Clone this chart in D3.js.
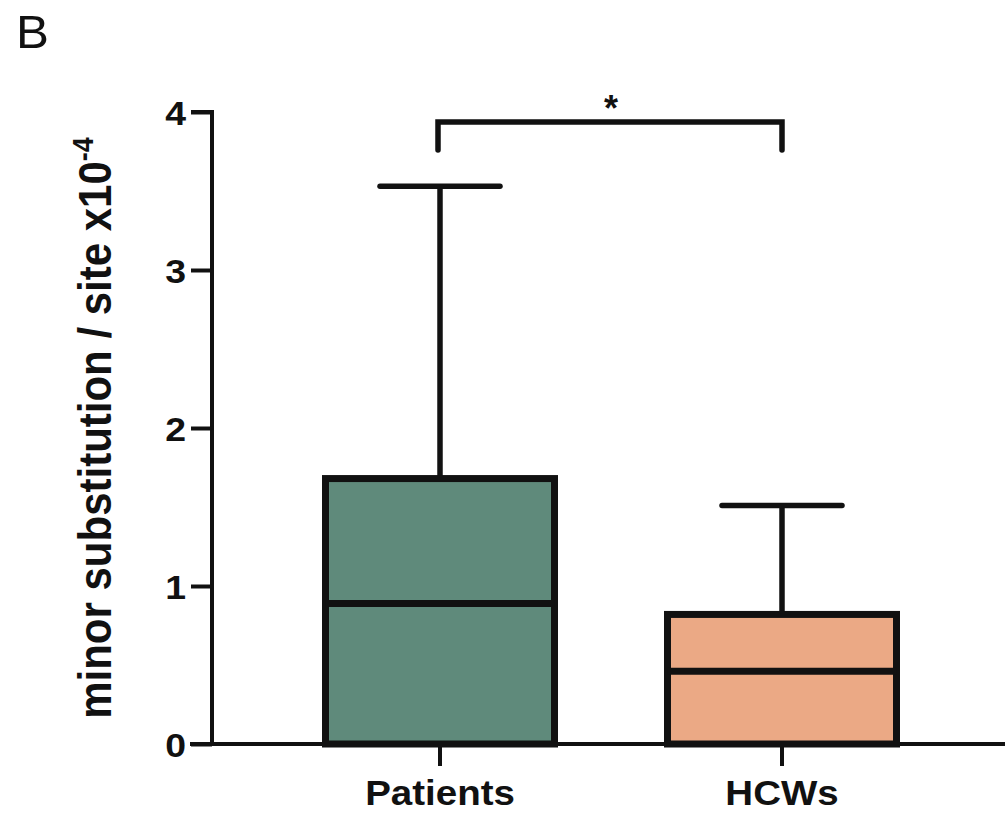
<!DOCTYPE html>
<html><head><meta charset="utf-8">
<script src="https://cdn.jsdelivr.net/npm/d3@7"></script>
<style>
html,body{margin:0;padding:0;background:#fff;}
svg{display:block;}
text{font-family:"Liberation Sans",Arial,Helvetica,sans-serif;}
</style></head>
<body><svg id="chart" width="1005" height="813"></svg>
<script>
const categories = ["Patients", "HCWs"];
const q1 = [0, 0];
const medians = [0.89, 0.46];
const q3 = [1.68, 0.82];
const whiskerMin = [0, 0];
const whiskerMax = [3.53, 1.51];
const colors = ["#5f8a7b", "#eba985"];
const yTicks = [0, 1, 2, 3, 4];
const significance = "*";

const svg = d3.select("#chart");
const stretch = 1.1;
const y = d3.scaleLinear().domain([0, 4]).range([744, 112]);
const xc = d3.scalePoint().domain(categories).range([440, 782]);
const boxW = 229, capW = 120;

// Panel label
svg.append("text").attr("transform", "translate(16,48) scale(1.05,1)")
  .attr("font-size", 47).attr("fill", "#111").text("B");

// Y axis
const yAxis = d3.axisLeft(y).tickValues(yTicks).tickSize(21).tickPadding(0).tickFormat(d3.format("d"));
const gy = svg.append("g").attr("transform", "translate(212,0)").call(yAxis);
gy.select(".domain").attr("stroke", "#111").attr("stroke-width", 4).attr("d", `M-21,${y(4)}H0V${y(0)}`);
gy.selectAll(".tick line").attr("stroke", "#111").attr("stroke-width", 4);
gy.selectAll(".tick text").attr("x", null).attr("dy", null)
  .attr("transform", `translate(-26,12) scale(${stretch},1)`)
  .attr("font-size", 34).attr("font-weight", "bold").attr("fill", "#111");

// X axis line
svg.append("line").attr("x1", 190).attr("x2", 1005).attr("y1", y(0)).attr("y2", y(0))
  .attr("stroke", "#111").attr("stroke-width", 4);
const gx = svg.append("g");
categories.forEach((c) => {
  gx.append("line").attr("x1", xc(c)).attr("x2", xc(c)).attr("y1", y(0)).attr("y2", y(0) + 22)
    .attr("stroke", "#111").attr("stroke-width", 4);
  gx.append("text").attr("transform", `translate(${xc(c)},805) scale(${stretch},1)`).attr("text-anchor", "middle")
    .attr("font-size", 35).attr("font-weight", "bold").attr("fill", "#111").text(c);
});

// Boxes
const data = categories.map((c, i) => ({c, q1: q1[i], med: medians[i], q3: q3[i], lo: whiskerMin[i], hi: whiskerMax[i], col: colors[i]}));
const g = svg.append("g");
data.forEach(d => {
  const cx = xc(d.c);
  g.append("line").attr("x1", cx).attr("x2", cx).attr("y1", y(d.q3)).attr("y2", y(d.hi))
    .attr("stroke", "#111").attr("stroke-width", 5.5);
  g.append("line").attr("x1", cx - capW / 2).attr("x2", cx + capW / 2).attr("y1", y(d.hi)).attr("y2", y(d.hi))
    .attr("stroke", "#111").attr("stroke-width", 5.5).attr("stroke-linecap", "round");
  g.append("rect").attr("x", cx - boxW / 2).attr("width", boxW)
    .attr("y", y(d.q3)).attr("height", y(d.q1) - y(d.q3))
    .attr("fill", d.col).attr("stroke", "#111").attr("stroke-width", 7);
  g.append("line").attr("x1", cx - boxW / 2).attr("x2", cx + boxW / 2).attr("y1", y(d.med)).attr("y2", y(d.med))
    .attr("stroke", "#111").attr("stroke-width", 7);
});

// Significance bracket
const by = 122, bDrop = 28;
svg.append("path")
  .attr("d", `M${xc(categories[0]) - 2},${by + bDrop}V${by}H${xc(categories[1])}V${by + bDrop}`)
  .attr("fill", "none").attr("stroke", "#111").attr("stroke-width", 5.5).attr("stroke-linecap", "round")
  .attr("stroke-linejoin", "miter");
svg.append("text").attr("x", (xc(categories[0]) + xc(categories[1])) / 2).attr("y", 121)
  .attr("text-anchor", "middle").attr("font-size", 36).attr("font-weight", "bold").attr("fill", "#111").text(significance);

// Y label
svg.append("text").attr("transform", `translate(111,${(y(0) + y(4)) / 2 + 0}) scale(1.12,1) rotate(-90)`)
  .attr("text-anchor", "middle").attr("font-size", 42).attr("font-weight", "bold").attr("fill", "#111")
  .call(t => {
    t.append("tspan").text("minor substitution / site x10");
    t.append("tspan").attr("dy", -16).attr("font-size", 27).text("-4");
  });
</script></body></html>
